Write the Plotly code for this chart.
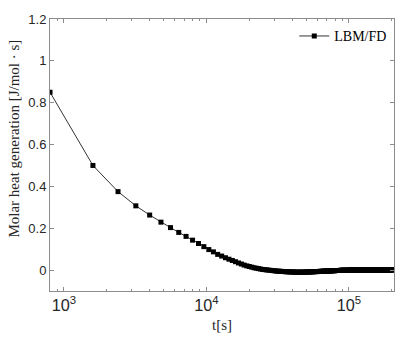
import plotly.graph_objects as go

t_s = [
    800, 1600, 2400, 3200, 4000, 4800, 5600, 6400, 7200, 8000,
    8800, 9600, 10400, 11200, 12000, 12800, 13600, 14400, 15200, 16000,
    16800, 17600, 18400, 19200, 20000, 20800, 21600, 22400, 23200, 24000,
    24800, 25600, 26400, 27200, 28000, 28800, 29600, 30400, 31200, 32000,
    32800, 33600, 34400, 35200, 36000, 36800, 37600, 38400, 39200, 40000,
    40800, 41600, 42400, 43200, 44000, 44800, 45600, 46400, 47200, 48000,
    48800, 49600, 50400, 51200, 52000, 52800, 53600, 54400, 55200, 56000,
    56800, 57600, 58400, 59200, 60000, 60800, 61600, 62400, 63200, 64000,
    64800, 65600, 66400, 67200, 68000, 68800, 69600, 70400, 71200, 72000,
    72800, 73600, 74400, 75200, 76000, 76800, 77600, 78400, 79200, 80000,
    80800, 81600, 82400, 83200, 84000, 84800, 85600, 86400, 87200, 88000,
    88800, 89600, 90400, 91200, 92000, 92800, 93600, 94400, 95200, 96000,
    96800, 97600, 98400, 99200, 100000, 100800, 101600, 102400, 103200, 104000,
    104800, 105600, 106400, 107200, 108000, 108800, 109600, 110400, 111200, 112000,
    112800, 113600, 114400, 115200, 116000, 116800, 117600, 118400, 119200, 120000,
    120800, 121600, 122400, 123200, 124000, 124800, 125600, 126400, 127200, 128000,
    128800, 129600, 130400, 131200, 132000, 132800, 133600, 134400, 135200, 136000,
    136800, 137600, 138400, 139200, 140000, 140800, 141600, 142400, 143200, 144000,
    144800, 145600, 146400, 147200, 148000, 148800, 149600, 150400, 151200, 152000,
    152800, 153600, 154400, 155200, 156000, 156800, 157600, 158400, 159200, 160000,
    160800, 161600, 162400, 163200, 164000, 164800, 165600, 166400, 167200, 168000,
    168800, 169600, 170400, 171200, 172000, 172800, 173600, 174400, 175200, 176000,
    176800, 177600, 178400, 179200, 180000, 180800, 181600, 182400, 183200, 184000,
    184800, 185600, 186400, 187200, 188000, 188800, 189600, 190400, 191200, 192000,
    192800, 193600, 194400, 195200, 196000, 196800, 197600, 198400, 199200, 200000,
]

heat_lbm_fd = [
    0.850, 0.500, 0.375, 0.307, 0.263, 0.229, 0.203, 0.180, 0.161, 0.143,
    0.127, 0.112, 0.098, 0.087, 0.075, 0.067, 0.059, 0.052, 0.046, 0.040,
    0.034, 0.029, 0.024, 0.020, 0.017, 0.014, 0.011, 0.009, 0.007, 0.005,
    0.003, 0.002, 0.001, 0.000, -0.001, -0.002, -0.003, -0.004, -0.005, -0.005,
    -0.006, -0.006, -0.007, -0.007, -0.008, -0.008, -0.008, -0.009, -0.009, -0.009,
    -0.009, -0.010, -0.010, -0.010, -0.010, -0.010, -0.010, -0.010, -0.010, -0.010,
    -0.010, -0.010, -0.009, -0.009, -0.009, -0.009, -0.009, -0.008, -0.008, -0.008,
    -0.008, -0.008, -0.007, -0.007, -0.007, -0.007, -0.007, -0.006, -0.006, -0.006,
    -0.006, -0.006, -0.005, -0.005, -0.005, -0.005, -0.005, -0.004, -0.004, -0.004,
    -0.004, -0.004, -0.004, -0.003, -0.003, -0.003, -0.003, -0.003, -0.003, -0.003,
    -0.002, -0.002, -0.002, -0.002, -0.002, -0.002, -0.002, -0.002, -0.001, -0.001,
    -0.001, -0.001, -0.001, -0.001, -0.001, -0.001, -0.001, -0.001, -0.001, -0.001,
    -0.001, -0.001, -0.001, -0.001, -0.001, 0.000, 0.000, 0.000, 0.000, 0.000,
    0.000, 0.000, 0.000, 0.000, 0.000, 0.000, 0.000, 0.000, 0.000, 0.000,
    0.000, 0.000, 0.000, 0.000, 0.000, 0.001, 0.001, 0.001, 0.001, 0.001,
    0.001, 0.001, 0.001, 0.001, 0.001, 0.001, 0.001, 0.001, 0.001, 0.001,
    0.001, 0.001, 0.001, 0.001, 0.001, 0.001, 0.001, 0.001, 0.001, 0.001,
    0.001, 0.001, 0.001, 0.001, 0.001, 0.001, 0.001, 0.001, 0.001, 0.001,
    0.001, 0.001, 0.001, 0.001, 0.001, 0.001, 0.001, 0.001, 0.001, 0.001,
    0.001, 0.001, 0.001, 0.001, 0.001, 0.001, 0.001, 0.001, 0.001, 0.001,
    0.001, 0.001, 0.001, 0.001, 0.001, 0.001, 0.001, 0.001, 0.001, 0.001,
    0.001, 0.001, 0.001, 0.001, 0.001, 0.001, 0.001, 0.001, 0.001, 0.001,
    0.001, 0.001, 0.001, 0.001, 0.001, 0.001, 0.001, 0.001, 0.001, 0.001,
    0.001, 0.001, 0.001, 0.001, 0.001, 0.001, 0.001, 0.001, 0.001, 0.001,
    0.001, 0.001, 0.001, 0.001, 0.001, 0.001, 0.001, 0.001, 0.001, 0.001,
]

y_tickvals = [0, 0.2, 0.4, 0.6, 0.8, 1.0, 1.2]
y_ticktext = ["0", "0.2", "0.4", "0.6", "0.8", "1", "1.2"]

serif = "Liberation Serif, Times New Roman, serif"
sans = "Liberation Sans, Arial, sans-serif"
axis_gray = "#8c8c8c"

fig = go.Figure()
fig.add_trace(go.Scatter(
    x=t_s, y=heat_lbm_fd, mode="lines+markers", name="LBM/FD",
    line=dict(color="#333333", width=1),
    marker=dict(symbol="square", size=5, color="black"),
))

fig.update_layout(
    width=415, height=346,
    margin=dict(l=50, r=21, t=13, b=55),
    paper_bgcolor="white", plot_bgcolor="white",
    showlegend=True,
    legend=dict(x=0.995, y=0.995, xanchor="right", yanchor="top",
                bgcolor="rgba(0,0,0,0)", borderwidth=0,
                font=dict(family=serif, size=14, color="black"),
                itemwidth=30, tracegroupgap=0),
    annotations=[dict(
        text="Molar heat generation [J/mol \u00b7 s]",
        xref="paper", yref="paper", x=-0.105, y=0.56,
        xanchor="center", yanchor="middle", textangle=-90, showarrow=False,
        font=dict(family=serif, size=15, color="#262626"),
    )],
)

fig.update_xaxes(
    type="log", range=[2.903, 5.316],
    dtick=1, exponentformat="power",
    showgrid=False, zeroline=False,
    showline=True, linecolor=axis_gray, linewidth=1, mirror="ticks",
    ticks="inside", ticklen=4, tickcolor=axis_gray,
    minor=dict(ticks="inside", ticklen=2, tickcolor=axis_gray, showgrid=False),
    tickfont=dict(family=sans, size=13, color="#262626"),
    title=dict(text="t[s]", font=dict(family=serif, size=15, color="#262626"), standoff=6),
)
fig.update_yaxes(
    range=[-0.1, 1.2],
    tickvals=y_tickvals, ticktext=y_ticktext,
    showgrid=False, zeroline=False,
    showline=True, linecolor=axis_gray, linewidth=1, mirror="ticks",
    ticks="inside", ticklen=4, tickcolor=axis_gray,
    tickfont=dict(family=sans, size=13, color="#262626"),
)

fig.write_html("out.html", config={"displayModeBar": False},
               post_script="document.body.style.margin='0';document.body.style.overflow='hidden';")
